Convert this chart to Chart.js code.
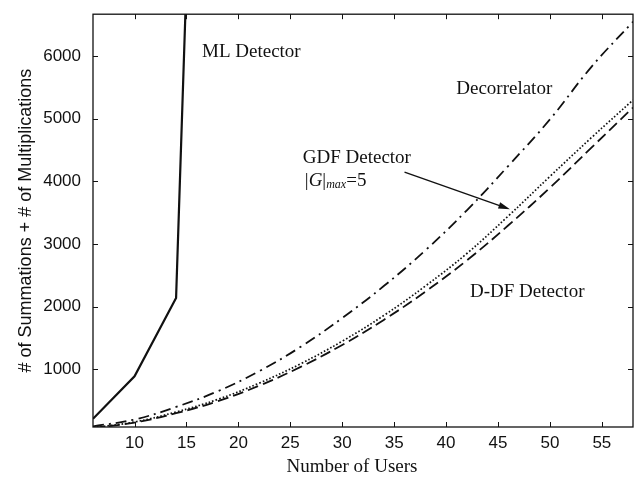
<!DOCTYPE html>
<html>
<head>
<meta charset="utf-8">
<script src="https://cdn.jsdelivr.net/npm/chart.js@4"></script>
<style>
  html, body { margin: 0; padding: 0; background: #fff; }
  canvas { display: block; }
</style>
</head>
<body>
<canvas id="grafic" width="637" height="480"></canvas>
<script>
// ---------- Data ----------

const users = [6, 10, 14, 18, 22, 26, 30, 34, 38, 42, 46, 50, 54, 58];
const decorrelator = [90, 200, 400, 650, 970, 1360, 1820, 2330, 2900, 3540, 4250, 4990, 5830, 6550];
const gdf = [70, 160, 320, 520, 780, 1090, 1450, 1860, 2330, 2850, 3450, 4080, 4700, 5300];
const ddf = [65, 150, 300, 490, 740, 1040, 1390, 1790, 2240, 2740, 3300, 3900, 4540, 5180];

const mlUsers = [6, 10, 14, 15];
const mlOps = [210, 890, 2140, 7200];

const xTicks = [10, 15, 20, 25, 30, 35, 40, 45, 50, 55];
const yTicks = [1000, 2000, 3000, 4000, 5000, 6000];

const ink = "#111";
const serif = "'Liberation Serif', 'Times New Roman', serif";
const sans = "'Liberation Sans', Arial, sans-serif";

// ---------- Box, inner ticks and labels ----------

const decoration = {
  id: "decoration",
  afterDraw(chart) {
    const { ctx, chartArea: a, scales: { x, y } } = chart;
    ctx.save();
    ctx.strokeStyle = ink;
    ctx.lineWidth = 1.3;
    ctx.strokeRect(a.left, a.top, a.right - a.left, a.bottom - a.top);

    ctx.lineWidth = 1;
    ctx.beginPath();
    x.ticks.forEach(t => {
      const px = Math.round(x.getPixelForValue(t.value)) + 0.5;
      ctx.moveTo(px, a.bottom); ctx.lineTo(px, a.bottom - 5);
      ctx.moveTo(px, a.top); ctx.lineTo(px, a.top + 5);
    });
    y.ticks.forEach(t => {
      const py = Math.round(y.getPixelForValue(t.value)) + 0.5;
      ctx.moveTo(a.left, py); ctx.lineTo(a.left + 5, py);
      ctx.moveTo(a.right, py); ctx.lineTo(a.right - 5, py);
    });
    ctx.stroke();

    // x title
    ctx.fillStyle = ink;
    ctx.textBaseline = "middle";
    ctx.textAlign = "center";
    ctx.font = "19px " + serif;
    ctx.fillText("Number of Users", 352, 467);

    // labels
    ctx.fillText("Decorrelator", x.getPixelForValue(45.6), y.getPixelForValue(5470));
    ctx.textAlign = "left";
    ctx.fillText("ML Detector", x.getPixelForValue(16.5), y.getPixelForValue(6060));
    ctx.fillText("GDF Detector", x.getPixelForValue(26.2), y.getPixelForValue(4370));
    ctx.fillText("D-DF Detector", x.getPixelForValue(42.3), y.getPixelForValue(2240));

    // |G|max=5
    let cx = x.getPixelForValue(26.4);
    const cy = y.getPixelForValue(4010);
    const parts = [
      ["|", "19px " + serif, 0],
      ["G", "italic 19px " + serif, 0],
      ["|", "19px " + serif, 0],
      ["max", "italic 12px " + serif, 4],
      ["=5", "19px " + serif, 0]
    ];
    parts.forEach(p => {
      ctx.font = p[1];
      ctx.fillText(p[0], cx, cy + p[2]);
      cx += ctx.measureText(p[0]).width;
    });

    // arrow
    const x1 = x.getPixelForValue(36.0), y1 = y.getPixelForValue(4150);
    const x2 = x.getPixelForValue(46.15), y2 = y.getPixelForValue(3555);
    const ang = Math.atan2(y2 - y1, x2 - x1);
    ctx.lineWidth = 1.4;
    ctx.beginPath();
    ctx.moveTo(x1, y1);
    ctx.lineTo(x2 - 8 * Math.cos(ang), y2 - 8 * Math.sin(ang));
    ctx.stroke();
    ctx.beginPath();
    ctx.moveTo(x2, y2);
    ctx.lineTo(x2 - 12 * Math.cos(ang - 0.28), y2 - 12 * Math.sin(ang - 0.28));
    ctx.lineTo(x2 - 12 * Math.cos(ang + 0.28), y2 - 12 * Math.sin(ang + 0.28));
    ctx.closePath();
    ctx.fill();
    ctx.restore();
  }
};

// ---------- Chart ----------

const pairs = (xs, ys) => xs.map((v, i) => ({ x: v, y: ys[i] }));

new Chart(document.getElementById("grafic"), {
  type: "line",
  data: {
    datasets: [
      {
        label: "ML Detector",
        data: pairs(mlUsers, mlOps),
        borderColor: ink,
        borderWidth: 2.2,
        tension: 0
      },
      {
        label: "Decorrelator",
        data: pairs(users, decorrelator),
        borderColor: ink,
        borderWidth: 1.8,
        borderDash: [11, 5, 2, 5],
        tension: 0.4
      },
      {
        label: "GDF Detector",
        data: pairs(users, gdf),
        borderColor: ink,
        borderWidth: 1.7,
        borderDash: [1.6, 2],
        tension: 0.4
      },
      {
        label: "D-DF Detector",
        data: pairs(users, ddf),
        borderColor: ink,
        borderWidth: 1.8,
        borderDash: [11, 5],
        tension: 0.4
      }
    ]
  },
  options: {
    responsive: false,
    animation: false,
    layout: { padding: { left: 0, right: 4, top: 6, bottom: 0 } },
    elements: { point: { radius: 0 } },
    plugins: {
      legend: { display: false },
      tooltip: { enabled: false }
    },
    scales: {
      x: {
        type: "linear",
        min: 6,
        max: 58,
        afterBuildTicks: s => { s.ticks = xTicks.map(v => ({ value: v })); },
        afterFit: s => { s.height = 53; },
        grid: { display: false },
        border: { display: false },
        ticks: {
          color: ink,
          padding: -2,
          maxRotation: 0,
          autoSkip: false,
          font: { family: sans, size: 17 }
        }
      },
      y: {
        min: 80,
        max: 6670,
        afterBuildTicks: s => { s.ticks = yTicks.map(v => ({ value: v })); },
        afterFit: s => { s.width = 93; },
        grid: { display: false },
        border: { display: false },
        ticks: {
          color: ink,
          padding: 4,
          autoSkip: false,
          callback: v => String(v),
          font: { family: sans, size: 17 }
        },
        title: {
          display: true,
          text: "# of Summations + # of Multiplications",
          color: ink,
          font: { family: sans, size: 18 },
          padding: { top: 15, bottom: 0 }
        }
      }
    }
  },
  plugins: [decoration]
});
</script>
</body>
</html>
